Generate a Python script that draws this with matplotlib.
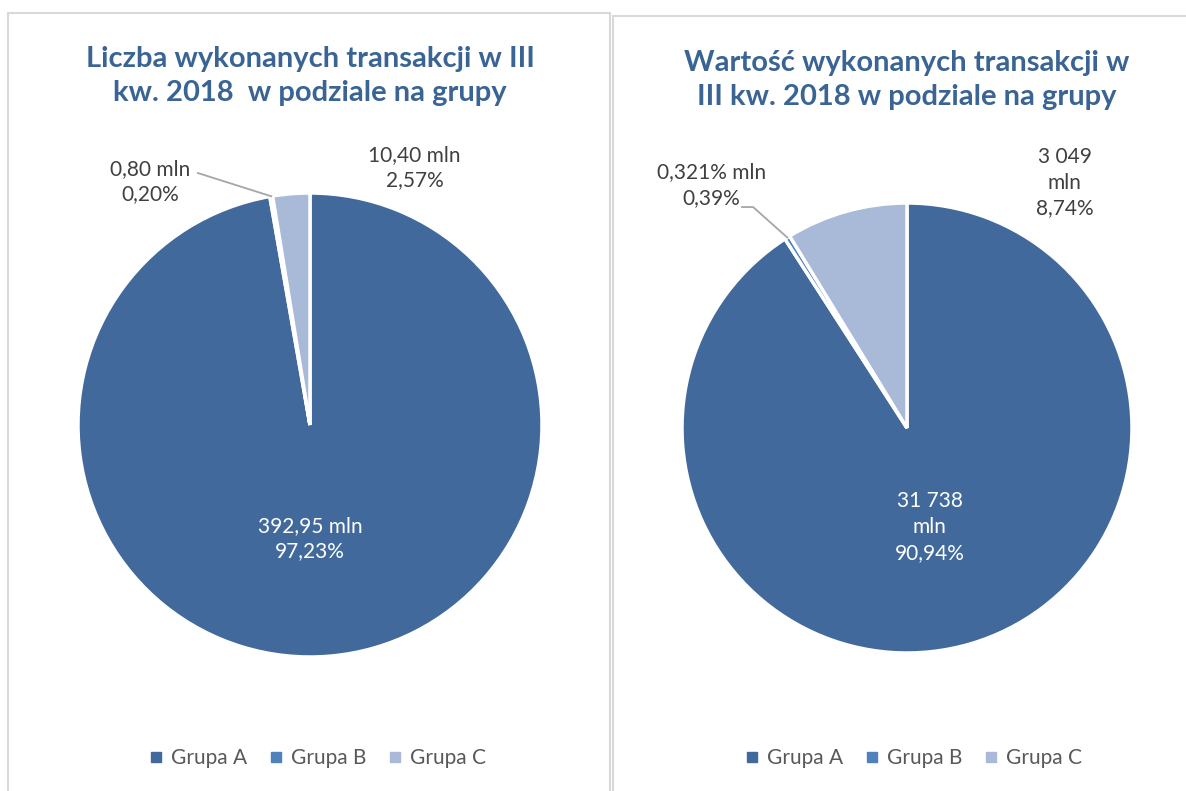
import numpy as np
import matplotlib
matplotlib.use("Agg")
import matplotlib.pyplot as plt
from matplotlib.patches import Rectangle
from matplotlib.lines import Line2D

plt.rcParams['font.family'] = ['Lato', 'DejaVu Sans']

groups = ["Grupa A", "Grupa B", "Grupa C"]
colors = ["#41699B", "#4F81BD", "#A9B9D8"]

# left chart: number of transactions (mln)
count_values = [392.95, 0.80, 10.40]
count_labels = ["392,95 mln\n97,23%", "0,80 mln\n0,20%", "10,40 mln\n2,57%"]
count_title = "Liczba wykonanych transakcji w III\nkw. 2018  w podziale na grupy"

# right chart: value of transactions (share in %)
value_values = [90.94, 0.39, 8.74]
value_labels = ["31 738\nmln\n90,94%", "0,321% mln\n0,39%", "3 049\nmln\n8,74%"]
value_title = "Wartość wykonanych transakcji w\nIII kw. 2018 w podziale na grupy"

W, H = 1186, 791
fig = plt.figure(figsize=(W / 100, H / 100), dpi=100)

# panel frames
for x0, y0, x1 in [(8, 13, 610), (613, 16, 1200)]:
    fig.patches.append(Rectangle((x0 / W, -0.05), (x1 - x0) / W, 1.05 - y0 / H,
                                 transform=fig.transFigure, fill=False,
                                 edgecolor="#D9D9D9", linewidth=1.5))


def draw_pie(cx, cy, r, values, labels, title, title_y, label_pos, leader, legend_x):
    ax = fig.add_axes([(cx - r) / W, (H - cy - r) / H, 2 * r / W, 2 * r / H])
    wedges, _ = ax.pie(values, colors=colors, startangle=90, counterclock=False,
                       radius=1, wedgeprops=dict(edgecolor="white", linewidth=2.5))
    ax.set_xlim(-1, 1)
    ax.set_ylim(-1, 1)
    ax.set_aspect("auto")
    ax.axis("off")
    for i, (lbl, (lx, ly)) in enumerate(zip(labels, label_pos)):
        ax.text(lx, ly, lbl, ha="center", va="center", fontsize=15,
                color="white" if i == 0 else "#404040", linespacing=1.35,
                clip_on=False)
    # leader line for the small slice
    w = wedges[1]
    mid = np.deg2rad((w.theta1 + w.theta2) / 2)
    px, py = np.cos(mid), np.sin(mid)
    xs = [p[0] for p in leader] + [px]
    ys = [p[1] for p in leader] + [py]
    ax.add_line(Line2D(xs, ys, color="#A6A6A6", linewidth=1.3, clip_on=False))
    fig.text(cx / W, 1 - title_y / H, title, ha="center", va="center",
             fontsize=21, fontweight="bold", color="#3A6494", linespacing=1.4)
    handles = [Line2D([], [], marker="s", linestyle="", markersize=7,
                      markerfacecolor=c, markeredgecolor=c) for c in colors]
    fig.legend(handles, groups, loc="center", bbox_to_anchor=(legend_x / W, 1 - 758 / H),
               ncol=3, frameon=False, fontsize=15, handletextpad=0.2,
               columnspacing=0.9, labelcolor="#595959", handlelength=1.0)


draw_pie(310, 425, 232, count_values, count_labels, count_title, 76,
         [(0.0, -0.49), (-0.69, 1.05), (0.45, 1.11)],
         [(-0.483, 1.086)], 316)
draw_pie(907, 428, 225, value_values, value_labels, value_title, 80,
         [(0.10, -0.44), (-0.87, 1.08), (0.70, 1.09)],
         [(-0.733, 0.982), (-0.684, 0.982)], 912)

fig.savefig("out.png", dpi=100)
